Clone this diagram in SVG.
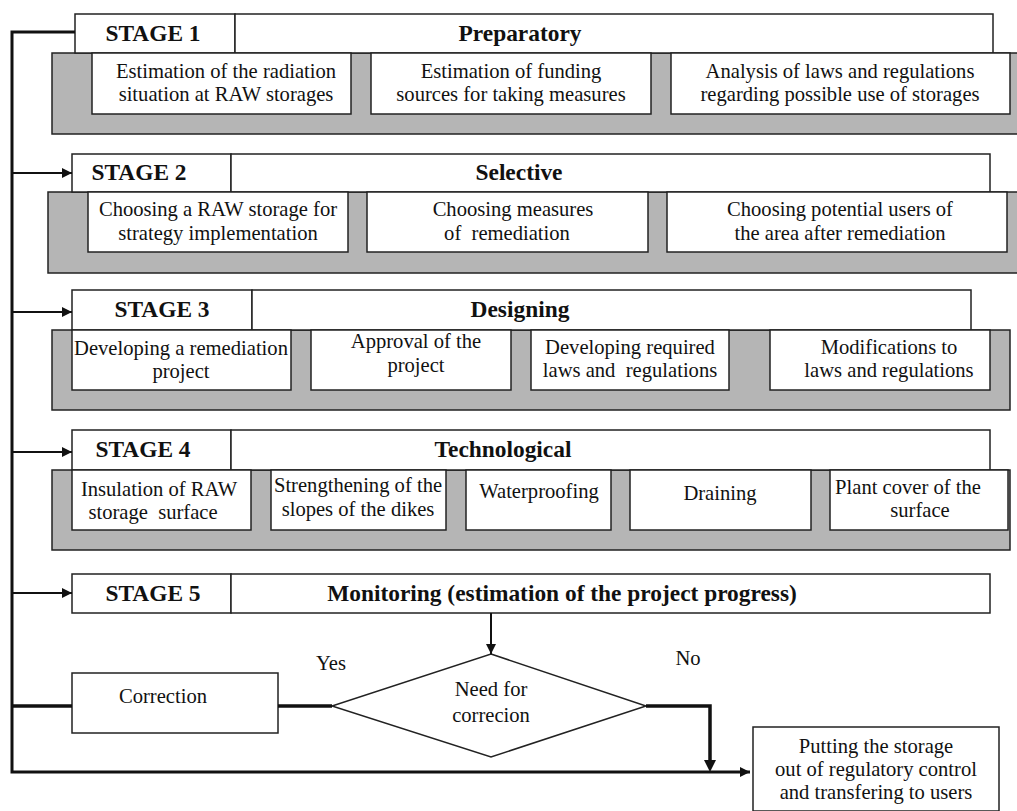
<svg xmlns="http://www.w3.org/2000/svg" width="1017" height="811" viewBox="0 0 1017 811">
<style>
.band{fill:#b5b5b5;stroke:#222;stroke-width:1.5}
.box{fill:#fff;stroke:#222;stroke-width:1.5}
.t{font-family:"Liberation Serif",serif;font-size:20.6px;fill:#111;text-anchor:middle}
.h{font-family:"Liberation Serif",serif;font-size:23.4px;font-weight:bold;fill:#111;text-anchor:middle}
.c{fill:none;stroke:#111;stroke-width:2}
.ck{fill:none;stroke:#111;stroke-width:3.5}
</style>
<defs>
<marker id="ah" viewBox="0 0 10 10" refX="10" refY="5" markerWidth="11" markerHeight="10" markerUnits="userSpaceOnUse" orient="auto">
<path d="M0,0 L10,5 L0,10 z" fill="#111"/>
</marker>
</defs>
<rect width="1017" height="811" fill="#fff"/>

<g id="stage1">
<rect class="band" x="52" y="53" width="966" height="81"/>
<rect class="box" x="75" y="14" width="160" height="39"/>
<rect class="box" x="235" y="14" width="758" height="39"/>
<text class="h" x="153" y="41">STAGE 1</text>
<text class="h" x="520" y="41">Preparatory</text>
<rect class="box" x="92" y="53" width="259" height="61"/>
<text class="t" x="226" y="78">Estimation of the radiation</text>
<text class="t" x="226" y="101">situation at RAW storages</text>
<rect class="box" x="371" y="53" width="280" height="61"/>
<text class="t" x="511" y="78">Estimation of funding</text>
<text class="t" x="511" y="101">sources for taking measures</text>
<rect class="box" x="671" y="53" width="339" height="61"/>
<text class="t" x="840" y="78">Analysis of laws and regulations</text>
<text class="t" x="840" y="101">regarding possible use of storages</text>
</g>

<g id="stage2">
<rect class="band" x="48" y="192" width="970" height="81"/>
<rect class="box" x="72" y="154" width="159" height="38"/>
<rect class="box" x="231" y="154" width="759" height="38"/>
<text class="h" x="139" y="180">STAGE 2</text>
<text class="h" x="519" y="180">Selective</text>
<rect class="box" x="88" y="192" width="260" height="60"/>
<text class="t" x="218" y="216">Choosing a RAW storage for</text>
<text class="t" x="218" y="240">strategy implementation</text>
<rect class="box" x="367" y="192" width="281" height="60"/>
<text class="t" x="513" y="216">Choosing measures</text>
<text class="t" x="507" y="240" xml:space="preserve">of  remediation</text>
<rect class="box" x="667" y="192" width="340" height="60"/>
<text class="t" x="840" y="216">Choosing potential users of</text>
<text class="t" x="840" y="240">the area after remediation</text>
</g>

<g id="stage3">
<rect class="band" x="52" y="330" width="958" height="80"/>
<rect class="box" x="72" y="290" width="180" height="40"/>
<rect class="box" x="252" y="290" width="719" height="40"/>
<text class="h" x="162" y="317">STAGE 3</text>
<text class="h" x="520" y="317">Designing</text>
<rect class="box" x="72" y="330" width="219" height="60"/>
<text class="t" x="181" y="355">Developing a remediation</text>
<text class="t" x="181" y="378">project</text>
<rect class="box" x="311" y="330" width="200" height="60"/>
<text class="t" x="416" y="348">Approval of the</text>
<text class="t" x="416" y="372">project</text>
<rect class="box" x="531" y="330" width="198" height="60"/>
<text class="t" x="630" y="354">Developing required</text>
<text class="t" x="630" y="377" xml:space="preserve">laws and  regulations</text>
<rect class="box" x="770" y="330" width="220" height="60"/>
<text class="t" x="889" y="354">Modifications to</text>
<text class="t" x="889" y="377">laws and regulations</text>
</g>

<g id="stage4">
<rect class="band" x="52" y="470" width="958" height="80"/>
<rect class="box" x="72" y="430" width="159" height="40"/>
<rect class="box" x="231" y="430" width="759" height="40"/>
<text class="h" x="143" y="457">STAGE 4</text>
<text class="h" x="503" y="457">Technological</text>
<rect class="box" x="72" y="470" width="179" height="60"/>
<text class="t" x="159" y="496">Insulation of RAW</text>
<text class="t" x="153" y="519" xml:space="preserve">storage  surface</text>
<rect class="box" x="271" y="470" width="175" height="60"/>
<text class="t" x="358" y="492">Strengthening of the</text>
<text class="t" x="358" y="516">slopes of the dikes</text>
<rect class="box" x="466" y="470" width="145" height="60"/>
<text class="t" x="539" y="498">Waterproofing</text>
<rect class="box" x="630" y="470" width="181" height="60"/>
<text class="t" x="720" y="500">Draining</text>
<rect class="box" x="830" y="470" width="178" height="60"/>
<text class="t" x="908" y="494">Plant cover of the</text>
<text class="t" x="920" y="517">surface</text>
</g>

<g id="stage5">
<rect class="box" x="72" y="574" width="159" height="39"/>
<rect class="box" x="231" y="574" width="759" height="39"/>
<text class="h" x="153" y="601">STAGE 5</text>
<text class="h" x="562" y="601">Monitoring (estimation of the project progress)</text>
</g>

<g id="decision">
<polygon class="box" points="491,654 646,706 491,757 332,706"/>
<text class="t" x="491" y="696">Need for</text>
<text class="t" x="491" y="722">correcion</text>
</g>

<g id="correction">
<rect class="box" x="72" y="673" width="206" height="60"/>
<text class="t" x="163" y="703">Correction</text>
</g>

<g id="final">
<rect class="box" x="753" y="727" width="246" height="84"/>
<text class="t" x="876" y="753">Putting the storage</text>
<text class="t" x="876" y="776">out of regulatory control</text>
<text class="t" x="876" y="799">and transfering to users</text>
</g>

<g id="connectors">
<path class="ck" d="M75,32 H12 V772 H750" style="stroke-width:3" marker-end="url(#ah)"/>
<path class="c" d="M12,173 H72" marker-end="url(#ah)"/>
<path class="c" d="M12,312 H72" marker-end="url(#ah)"/>
<path class="c" d="M12,452 H72" marker-end="url(#ah)"/>
<path class="c" d="M12,593 H72" marker-end="url(#ah)"/>
<path class="c" d="M491,613 V654" marker-end="url(#ah)"/>
<path class="ck" d="M12,706 H72"/>
<path class="ck" d="M278,706 H332"/>
<path class="ck" d="M646,706 H710 V762"/>
<path d="M704,760 L716,760 L710,772 z" fill="#111"/>
<text class="t" x="331" y="670">Yes</text>
<text class="t" x="688" y="665">No</text>
</g>
</svg>
